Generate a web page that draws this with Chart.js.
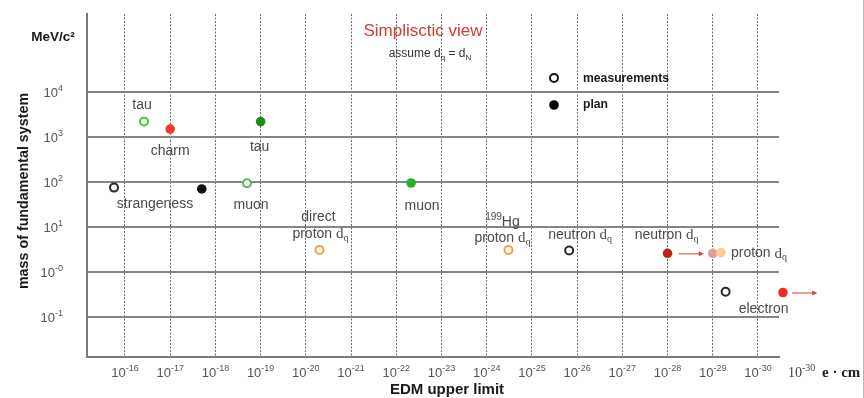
<!DOCTYPE html>
<html>
<head>
<meta charset="utf-8">
<script src="https://cdn.jsdelivr.net/npm/chart.js@4/dist/chart.umd.min.js"></script>
<style>
  html, body { margin: 0; padding: 0; background: #fff; }
  #wrap { width: 864px; height: 398px; position: relative; }
</style>
</head>
<body>
<div id="wrap"><canvas id="c" width="864" height="398"></canvas></div>
<script>
// EDM upper limits versus the mass of the fundamental system

// Axis ticks (labels use ^{...} for superscripts)
const xTickValues = [1e-16, 1e-17, 1e-18, 1e-19, 1e-20, 1e-21, 1e-22, 1e-23,
                     1e-24, 1e-25, 1e-26, 1e-27, 1e-28, 1e-29, 1e-30];
const xTickLabels = ['10^{-16}', '10^{-17}', '10^{-18}', '10^{-19}', '10^{-20}', '10^{-21}', '10^{-22}', '10^{-23}',
                     '10^{-24}', '10^{-25}', '10^{-26}', '10^{-27}', '10^{-28}', '10^{-29}', '10^{-30}'];
const yTickValues = [0.1, 1, 10, 100, 1000, 10000];
const yTickLabels = ['10^{-1}', '10^{-0}', '10^{1}', '10^{2}', '10^{3}', '10^{4}'];

// Measurements (open circles): EDM limit in e·cm, mass in MeV/c²
const measNames = ['tau', 'strangeness', 'muon', 'direct proton', '199Hg proton', 'neutron', 'electron'];
const measEdm   = [3.8e-17, 1.75e-16, 2e-19, 5e-21, 3.3e-25, 1.5e-26, 5.2e-30];
const measMass  = [2200, 75, 94, 3.1, 3.1, 3.0, 0.365];

// Plans (filled circles)
const planNames = ['charm', 'tau', 'strangeness', 'muon', 'neutron', 'neutron goal', 'proton', 'electron'];
const planEdm   = [1e-17, 1e-19, 2e-18, 4.7e-23, 1e-28, 1e-29, 6.6e-30, 2.8e-31];
const planMass  = [1500, 2200, 70, 95, 2.6, 2.6, 2.7, 0.35];

// Projected improvements drawn as arrows
const arrowFromEdm = [1e-28, 2.8e-31];
const arrowToEdm   = [1e-29, 4.9e-32];
const arrowMass    = [2.6, 0.35];

// ---- styling ----
const measColors = ['#4cc04c', '#2a2a2a', '#4cc04c', '#f5a23e', '#f5a23e', '#2a2a2a', '#2a2a2a'];
const planColors = ['#f23a2a', '#1e8a1e', '#111111', '#28b028', '#c0221a', '#dba09e', '#fccb94', '#f22a1e'];
const arrowGaps  = [[11, 9], [9, 0]];   // px gap at start / end of each arrow

const SANS = '"Liberation Sans", Arial, Helvetica, sans-serif';
const SERIF = '"Liberation Serif", "Times New Roman", serif';
const TEXT = '#4a4a4a';

// labels placed next to the points they describe (dataset, index, offset)
const pointLabels = [
  { ds: 0, i: 0, dx: -2,  dy: -16, text: 'tau' },
  { ds: 1, i: 0, dx: 0,   dy: 22,  text: 'charm' },
  { ds: 1, i: 1, dx: -1,  dy: 26,  text: 'tau' },
  { ds: 0, i: 1, dx: 41,  dy: 17,  text: 'strangeness' },
  { ds: 0, i: 2, dx: 4,   dy: 22,  text: 'muon' },
  { ds: 1, i: 3, dx: 11,  dy: 23,  text: 'muon' },
  { ds: 0, i: 3, dx: -1,  dy: -33, text: 'direct' },
  { ds: 0, i: 3, dx: 1,   dy: -16, text: 'proton d_{q}' },
  { ds: 0, i: 4, dx: -6,  dy: -28, text: '^{199}Hg' },
  { ds: 0, i: 4, dx: -6,  dy: -12, text: 'proton d_{q}' },
  { ds: 0, i: 5, dx: 11,  dy: -15, text: 'neutron d_{q}' },
  { ds: 1, i: 4, dx: -1,  dy: -18, text: 'neutron d_{q}' },
  { ds: 1, i: 6, dx: 10,  dy: 1,   text: 'proton d_{q}', align: 'left' },
  { ds: 0, i: 6, dx: 38,  dy: 17,  text: 'electron' }
];

// Split "a_{b}^{c}" style markup into runs
function parseRich(str) {
  const runs = [];
  const re = /(_\{[^}]*\}|\^\{[^}]*\})/g;
  let last = 0, m;
  while ((m = re.exec(str)) !== null) {
    if (m.index > last) runs.push({ t: str.slice(last, m.index), k: 'n' });
    runs.push({ t: m[0].slice(2, -1), k: m[0][0] === '_' ? 'sub' : 'sup' });
    last = re.lastIndex;
  }
  if (last < str.length) runs.push({ t: str.slice(last), k: 'n' });
  return runs;
}

// Draw markup text; a "d" right before a subscript is set in a serif face
function drawRich(ctx, str, x, y, opt) {
  const size = opt.size, fam = opt.family || SANS, weight = opt.weight || 'normal';
  const serifD = opt.serifD !== false;
  const scale = opt.scriptScale || 0.68;
  const runs = parseRich(str);
  const out = [];
  runs.forEach((r, idx) => {
    const next = runs[idx + 1];
    if (r.k === 'n' && serifD && next && next.k === 'sub' && r.t.endsWith('d')) {
      if (r.t.length > 1) out.push({ t: r.t.slice(0, -1), k: 'n' });
      out.push({ t: 'd', k: 'serif' });
    } else out.push(r);
  });
  const fontOf = (k) => {
    if (k === 'sub' || k === 'sup') return `${weight} ${Math.round(size * scale)}px ${k === 'sub' && serifD ? SERIF : fam}`;
    if (k === 'serif') return `${weight} ${size + 1}px ${SERIF}`;
    return `${weight} ${size}px ${fam}`;
  };
  let w = 0;
  out.forEach(r => { ctx.font = fontOf(r.k); r.w = ctx.measureText(r.t).width; w += r.w; });
  let cx = x;
  if (opt.align === 'center' || !opt.align) cx = x - w / 2;
  else if (opt.align === 'right') cx = x - w;
  ctx.textBaseline = 'middle';
  ctx.textAlign = 'left';
  ctx.fillStyle = opt.color || TEXT;
  out.forEach(r => {
    ctx.font = fontOf(r.k);
    let yy = y;
    if (r.k === 'sub') yy = y + size * 0.3;
    if (r.k === 'sup') yy = y - size * 0.33;
    ctx.fillText(r.t, cx, yy);
    cx += r.w;
  });
}

const annotate = {
  id: 'annotate',
  afterDraw(chart) {
    const ctx = chart.ctx;
    const xs = chart.scales.x, ys = chart.scales.y;
    ctx.save();

    // tick labels, positioned by the scales
    xs.ticks.forEach(t => {
      const k = xTickValues.findIndex(v => Math.abs(Math.log10(v) - Math.log10(t.value)) < 1e-6);
      if (k < 0) return;
      drawRich(ctx, xTickLabels[k], xs.getPixelForValue(t.value), xs.top + 16, { size: 13, color: '#555', serifD: false });
    });
    ys.ticks.forEach(t => {
      const k = yTickValues.findIndex(v => Math.abs(Math.log10(v) - Math.log10(t.value)) < 1e-6);
      if (k < 0) return;
      drawRich(ctx, yTickLabels[k], ys.right - 24, ys.getPixelForValue(t.value) + 1, { size: 13, align: 'right', color: '#555', serifD: false });
    });

    // arrows
    arrowFromEdm.forEach((from, k) => {
      const y = ys.getPixelForValue(arrowMass[k]);
      const x0 = xs.getPixelForValue(from) + arrowGaps[k][0];
      const x1 = xs.getPixelForValue(arrowToEdm[k]) - arrowGaps[k][1];
      ctx.strokeStyle = '#d0413c';
      ctx.fillStyle = '#d0413c';
      ctx.lineWidth = 1;
      ctx.beginPath();
      ctx.moveTo(x0, y + 0.5);
      ctx.lineTo(x1 - 4, y + 0.5);
      ctx.stroke();
      ctx.beginPath();
      ctx.moveTo(x1, y + 0.5);
      ctx.lineTo(x1 - 5, y - 2);
      ctx.lineTo(x1 - 5, y + 3);
      ctx.closePath();
      ctx.fill();
    });

    // point labels
    pointLabels.forEach(l => {
      const el = chart.getDatasetMeta(l.ds).data[l.i];
      drawRich(ctx, l.text, el.x + l.dx, el.y + l.dy, { size: 14, align: l.align || 'center', color: TEXT });
    });

    // title block
    ctx.textAlign = 'center';
    ctx.textBaseline = 'middle';
    ctx.fillStyle = '#d23c34';
    ctx.font = `17px ${SANS}`;
    ctx.fillText('Simplisctic view', 423, 31);
    drawRich(ctx, 'assume d_{q} = d_{N}', 430, 54, { size: 12, color: '#333', serifD: false });

    // legend
    ctx.lineWidth = 2;
    ctx.strokeStyle = '#111';
    ctx.beginPath(); ctx.arc(554, 78, 4, 0, Math.PI * 2); ctx.stroke();
    ctx.fillStyle = '#000';
    ctx.beginPath(); ctx.arc(554, 105, 4.8, 0, Math.PI * 2); ctx.fill();
    ctx.fillStyle = '#1a1a1a';
    ctx.font = `bold 12.2px ${SANS}`;
    ctx.textAlign = 'left';
    ctx.textBaseline = 'middle';
    ctx.fillText('measurements', 583, 79);
    ctx.fillText('plan', 583, 105);

    // axis titles and units
    ctx.fillStyle = '#1a1a1a';
    ctx.textAlign = 'center';
    ctx.font = `bold 13.5px ${SANS}`;
    ctx.fillText('MeV/c²', 53, 37);
    ctx.font = `bold 15px ${SANS}`;
    ctx.fillText('EDM upper limit', 447, 390);
    ctx.save();
    ctx.translate(24, 191);
    ctx.rotate(-Math.PI / 2);
    ctx.font = `bold 14.3px ${SANS}`;
    ctx.fillText('mass of fundamental system', 0, 0);
    ctx.restore();

    drawRich(ctx, '10^{-30}', 788, 373, { size: 14, align: 'left', color: '#444', family: SERIF, serifD: false });
    ctx.font = `bold 15px ${SERIF}`;
    ctx.fillStyle = '#222';
    ctx.textAlign = 'left';
    ctx.textBaseline = 'middle';
    ctx.fillText('e · cm', 822, 373);

    // frame edge on the right
    ctx.strokeStyle = '#b8b8b8';
    ctx.lineWidth = 1;
    ctx.beginPath(); ctx.moveTo(863.5, 0); ctx.lineTo(863.5, 398); ctx.stroke();
    ctx.restore();
  }
};

new Chart(document.getElementById('c'), {
  type: 'scatter',
  data: {
    datasets: [
      {
        label: 'measurements',
        data: measEdm.map((v, i) => ({ x: v, y: measMass[i] })),
        pointRadius: 4,
        pointBorderWidth: 2,
        pointBackgroundColor: '#ffffff',
        pointBorderColor: measColors,
        clip: false
      },
      {
        label: 'plan',
        data: planEdm.map((v, i) => ({ x: v, y: planMass[i] })),
        pointRadius: 4.8,
        pointBorderWidth: 0,
        pointBackgroundColor: planColors,
        pointBorderColor: planColors,
        clip: false
      }
    ]
  },
  options: {
    responsive: false,
    animation: false,
    devicePixelRatio: 1,
    layout: { padding: { left: 0, top: 14, right: 85, bottom: 0 } },
    plugins: { legend: { display: false }, tooltip: { enabled: false } },
    scales: {
      x: {
        type: 'logarithmic',
        reverse: true,
        bounds: 'data',
        min: Math.pow(10, -30.4645),
        max: Math.pow(10, -15.16),
        afterBuildTicks: s => { s.ticks = xTickValues.map(v => ({ value: v })); },
        afterFit: s => { s.height = 41; s.paddingLeft = 0; s.paddingRight = 0; },
        ticks: { display: false, autoSkip: false, maxRotation: 0 },
        grid: { color: '#6a6a6a', lineWidth: 1, drawTicks: false },
        border: { display: true, color: '#7a7a7a', width: 2, dash: [2, 1.5] }
      },
      y: {
        type: 'logarithmic',
        bounds: 'data',
        min: Math.pow(10, -1.889),
        max: Math.pow(10, 5.733),
        afterBuildTicks: s => { s.ticks = yTickValues.map(v => ({ value: v })); },
        afterFit: s => { s.width = 87; s.paddingTop = 0; s.paddingBottom = 0; },
        ticks: { display: false, autoSkip: false },
        grid: { color: '#858585', lineWidth: 2, drawTicks: false },
        border: { display: true, color: '#7a7a7a', width: 2 }
      }
    }
  },
  plugins: [annotate]
});
</script>
</body>
</html>
